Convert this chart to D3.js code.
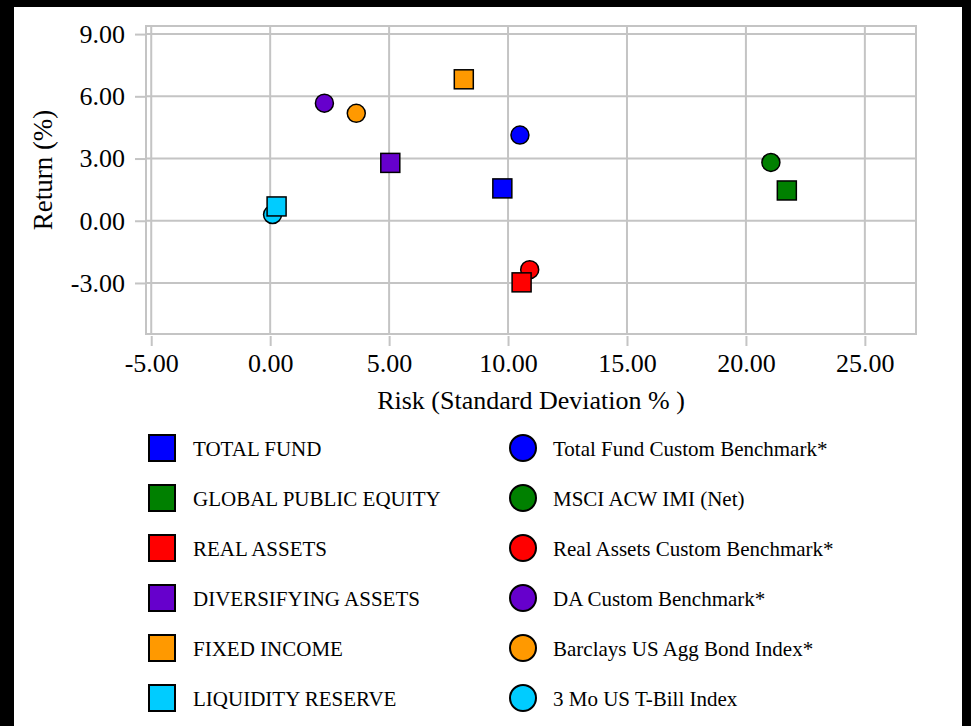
<!DOCTYPE html>
<html>
<head>
<meta charset="utf-8">
<script src="https://cdn.jsdelivr.net/npm/d3@7"></script>
<style>
  html, body { margin: 0; padding: 0; background: #000; }
  svg { display: block; }
  text { font-family: "Liberation Serif", "Times New Roman", serif; fill: #000; }
</style>
</head>
<body>
<div id="chart"></div>
<script>
// portfolios (squares) and their benchmarks (circles)
const portfolios = ["TOTAL FUND", "GLOBAL PUBLIC EQUITY", "REAL ASSETS", "DIVERSIFYING ASSETS", "FIXED INCOME", "LIQUIDITY RESERVE"];
const benchmarks = ["Total Fund Custom Benchmark*", "MSCI ACW IMI (Net)", "Real Assets Custom Benchmark*", "DA Custom Benchmark*", "Barclays US Agg Bond Index*", "3 Mo US T-Bill Index"];
const colors = ["#0000ff", "#008000", "#ff0000", "#6600cc", "#ff9900", "#00ccff"];

// risk (std dev %) and return (%)
const portRisk = [9.76, 21.72, 10.57, 5.05, 8.14, 0.27];
const portReturn = [1.56, 1.46, -2.97, 2.79, 6.82, 0.69];
const benchRisk = [10.50, 21.05, 10.91, 2.28, 3.62, 0.10];
const benchReturn = [4.13, 2.81, -2.36, 5.67, 5.18, 0.30];

const xTicks = [-5, 0, 5, 10, 15, 20, 25];
const yTicks = [-3, 0, 3, 6, 9];

const W = 971, H = 726;

const svg = d3.select("#chart").append("svg")
    .attr("width", W)
    .attr("height", H);

// black frame around white page
svg.append("rect").attr("width", W).attr("height", H).attr("fill", "#000");
svg.append("rect").attr("x", 14).attr("y", 7).attr("width", 948).attr("height", H).attr("fill", "#fff");

const x = d3.scaleLinear().domain([-5.22, 27.15]).range([146, 916]);
const y = d3.scaleLinear().domain([-5.46, 9.39]).range([334, 26]);

const grey = "#c4c4c4";
// plain hyphen for negatives, like the original
const fmt = d => d.toFixed(2);

// gridlines
svg.append("g").selectAll("line.vx")
    .data(xTicks).enter().append("line")
    .attr("x1", d => x(d)).attr("x2", d => x(d))
    .attr("y1", y.range()[1]).attr("y2", y.range()[0])
    .attr("stroke", grey).attr("stroke-width", 2);

svg.append("g").selectAll("line.hy")
    .data(yTicks).enter().append("line")
    .attr("x1", x.range()[0]).attr("x2", x.range()[1])
    .attr("y1", d => y(d)).attr("y2", d => y(d))
    .attr("stroke", grey).attr("stroke-width", 2);

// plot frame
svg.append("rect")
    .attr("x", x.range()[0]).attr("y", y.range()[1])
    .attr("width", x.range()[1] - x.range()[0])
    .attr("height", y.range()[0] - y.range()[1])
    .attr("fill", "none").attr("stroke", grey).attr("stroke-width", 2);

// axes
const xAxis = d3.axisBottom(x).tickValues(xTicks).tickFormat(fmt)
    .tickSize(10).tickPadding(8);
const gx = svg.append("g").attr("transform", `translate(0,${y.range()[0] + 2})`).call(xAxis);
gx.select(".domain").remove();
gx.selectAll(".tick line").attr("stroke", grey).attr("stroke-width", 2);
gx.selectAll(".tick text").style("font-size", "26px").attr("fill", "#000")
    .style("font-family", "'Liberation Serif', serif");

const yAxis = d3.axisLeft(y).tickValues(yTicks).tickFormat(fmt)
    .tickSize(10).tickPadding(10);
const gy = svg.append("g").attr("transform", `translate(${x.range()[0] - 1},0)`).call(yAxis);
gy.select(".domain").remove();
gy.selectAll(".tick line").attr("stroke", grey).attr("stroke-width", 2);
gy.selectAll(".tick text").style("font-size", "26px").attr("fill", "#000")
    .style("font-family", "'Liberation Serif', serif");

// axis titles
svg.append("text")
    .attr("x", (x.range()[0] + x.range()[1]) / 2)
    .attr("y", 409)
    .attr("text-anchor", "middle")
    .style("font-size", "26px")
    .text("Risk (Standard Deviation % )");

svg.append("text")
    .attr("transform", `translate(52,170) rotate(-90)`)
    .attr("text-anchor", "middle")
    .style("font-size", "27px")
    .text("Return (%)");

// benchmarks as circles (drawn first, squares sit on top)
svg.append("g").selectAll("circle")
    .data(benchmarks).enter().append("circle")
    .attr("cx", (d, i) => x(benchRisk[i]))
    .attr("cy", (d, i) => y(benchReturn[i]))
    .attr("r", 9)
    .attr("fill", (d, i) => colors[i])
    .attr("stroke", "#000").attr("stroke-width", 1.5);

const sq = 19;
svg.append("g").selectAll("rect")
    .data(portfolios).enter().append("rect")
    .attr("x", (d, i) => x(portRisk[i]) - sq / 2)
    .attr("y", (d, i) => y(portReturn[i]) - sq / 2)
    .attr("width", sq).attr("height", sq)
    .attr("fill", (d, i) => colors[i])
    .attr("stroke", "#000").attr("stroke-width", 1.5);

// legend
const rowY = d3.scaleLinear().domain([0, 1]).range([448, 498]);
const leg = svg.append("g");

leg.selectAll("rect")
    .data(portfolios).enter().append("rect")
    .attr("x", 149).attr("y", (d, i) => rowY(i) - 13)
    .attr("width", 26).attr("height", 26)
    .attr("fill", (d, i) => colors[i])
    .attr("stroke", "#000").attr("stroke-width", 2);

leg.selectAll("text.p")
    .data(portfolios).enter().append("text")
    .attr("x", 193).attr("y", (d, i) => rowY(i) + 8)
    .style("font-size", "21px")
    .text(d => d);

leg.selectAll("circle")
    .data(benchmarks).enter().append("circle")
    .attr("cx", 523).attr("cy", (d, i) => rowY(i))
    .attr("r", 13)
    .attr("fill", (d, i) => colors[i])
    .attr("stroke", "#000").attr("stroke-width", 2);

leg.selectAll("text.b")
    .data(benchmarks).enter().append("text")
    .attr("x", 553).attr("y", (d, i) => rowY(i) + 8)
    .style("font-size", "21px")
    .text(d => d);
</script>
</body>
</html>
